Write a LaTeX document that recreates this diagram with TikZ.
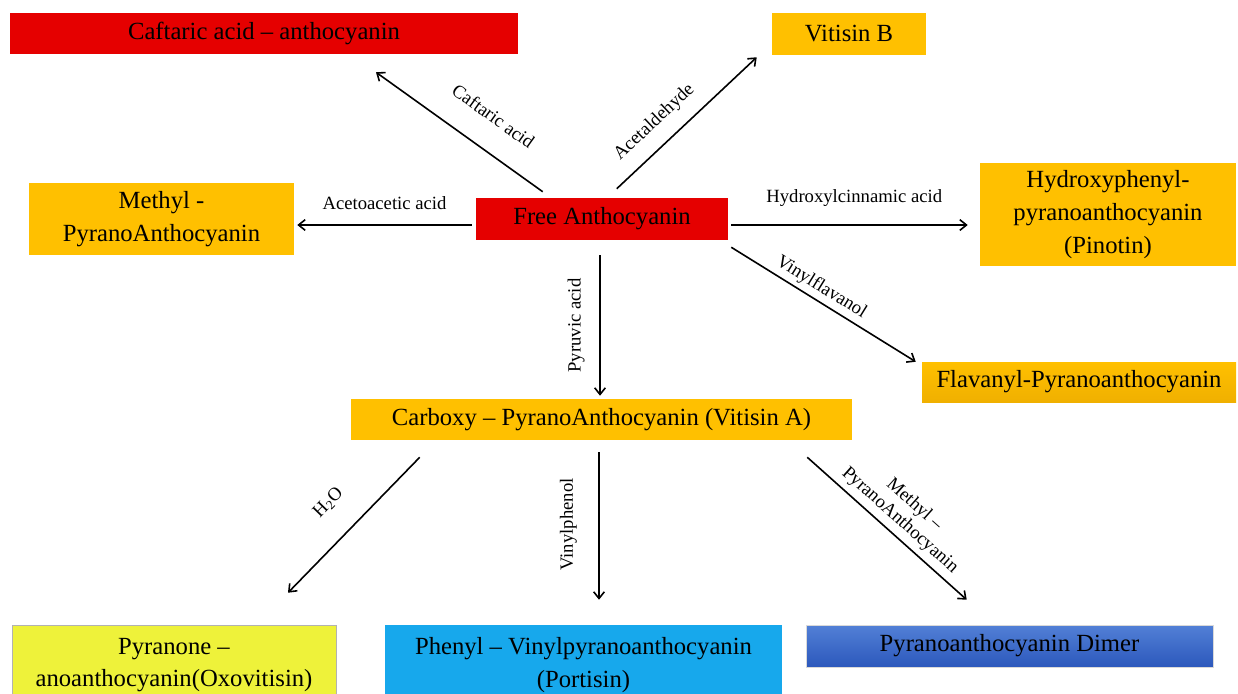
\documentclass[tikz,border=0pt]{standalone}
\usepackage{fontspec}
\setmainfont{Liberation Serif}
\usetikzlibrary{arrows.meta}

\begin{document}
\begin{tikzpicture}[x=0.75pt,y=-0.75pt,
  box/.style={align=center,inner sep=0pt,font=\fontsize{18.5}{24.5}\selectfont},
  react/.style={inner sep=1pt,font=\fontsize{14}{16}\selectfont},
  arr/.style={-{Straight Barb[length=5pt,width=8pt]},line width=1.2pt}]
  \colorlet{antred}{red!90!black}
  \definecolor{gold}{RGB}{255,192,0}
  \definecolor{goldlow}{RGB}{240,176,0}
  \definecolor{lemon}{RGB}{238,242,58}
  \definecolor{sky}{RGB}{23,168,236}
  \definecolor{navytop}{RGB}{82,128,214}
  \definecolor{navylow}{RGB}{44,88,188}

  \useasboundingbox (0,0) rectangle (1238,693);
  \clip (0,0) rectangle (1238,693);

  % products of the free anthocyanin
  \node[box,fill=antred,minimum width=381pt,minimum height=30.75pt] (caftaric) at (264,33.5) {Caftaric acid -- anthocyanin};
  \node[box,fill=gold,minimum width=115.5pt,minimum height=31.5pt] (vitisinB) at (849,34) {Vitisin B};
  \node[box,fill=gold,minimum width=198.75pt,minimum height=54pt] (methyl) at (161.5,219) {Methyl -\\PyranoAnthocyanin};
  \node[box,fill=antred,minimum width=189pt,minimum height=31.5pt] (free) at (602,219) {Free Anthocyanin};
  \node[box,fill=gold,minimum width=192pt,minimum height=77.25pt] (pinotin) at (1108,214.5) {Hydroxyphenyl-\\pyranoanthocyanin\\(Pinotin)};
  \node[box,top color=gold,bottom color=goldlow,minimum width=235.5pt,minimum height=30pt] (flavanyl) at (1079,382) {Flavanyl-Pyranoanthocyanin};
  \node[box,fill=gold,minimum width=375.75pt,minimum height=30.75pt] (vitisinA) at (601.5,419.5) {Carboxy -- PyranoAnthocyanin (Vitisin A)};

  % products of vitisin A
  \node[box,fill=lemon,draw=black!30,minimum width=243pt,minimum height=60pt] (oxovitisin) at (174,665) {Pyranone --\\anoanthocyanin(Oxovitisin)};
  \node[box,fill=sky,minimum width=297.75pt,minimum height=60pt] (portisin) at (583.5,665) {Phenyl -- Vinylpyranoanthocyanin\\(Portisin)};
  \node[box,top color=navytop,bottom color=navylow,draw=black!15,minimum width=305.25pt,minimum height=31.5pt] (dimer) at (1009.5,646) {Pyranoanthocyanin Dimer};

  \draw[arr] ([shift={(67,-6)}]free.north west) -- ([shift={(112,18)}]caftaric.south)
    node[react,pos=.41,sloped,above=18pt] {Caftaric acid};
  \draw[arr] ([shift={(141,-9)}]free.north west) -- ([shift={(-15,2)}]vitisinB.south west)
    node[react,pos=.38,sloped,above=9pt] {Acetaldehyde};
  \draw[arr] ([shift={(-4,6)}]free.west) -- ([shift={(3,6)}]methyl.east)
    node[react,pos=.5,above=10pt] {Acetoacetic acid};
  \draw[arr] ([shift={(3,6)}]free.east) -- ([shift={(-12,10.5)}]pinotin.west)
    node[react,pos=.52,above=12pt] {Hydroxylcinnamic acid};
  \draw[arr] ([shift={(3,7)}]free.south east) -- ([shift={(-6,0)}]flavanyl.north west)
    node[react,pos=.45,sloped,above=2pt] {Vinylflavanol};
  \draw[arr] ([shift={(-2,15)}]free.south) -- ([shift={(-1.5,-3)}]vitisinA.north)
    node[react,pos=.5,rotate=90,above=10pt] {Pyruvic acid};

  \draw[arr] ([shift={(69,17)}]vitisinA.south west) -- ([shift={(114,-32)}]oxovitisin.north)
    node[react,pos=.51,sloped,above=18pt] {H\textsubscript{2}O};
  \draw[arr] ([shift={(-2.5,12)}]vitisinA.south) -- ([shift={(15.5,-25)}]portisin.north)
    node[react,pos=.49,rotate=90,above=15pt] {Vinylphenol};
  \draw[arr] ([shift={(-45,17)}]vitisinA.south east) -- ([shift={(161,-25)}]dimer.north west)
    node[react,pos=.52,sloped,above=3pt,align=center] {Methyl --\\PyranoAnthocyanin};
\end{tikzpicture}
\end{document}
